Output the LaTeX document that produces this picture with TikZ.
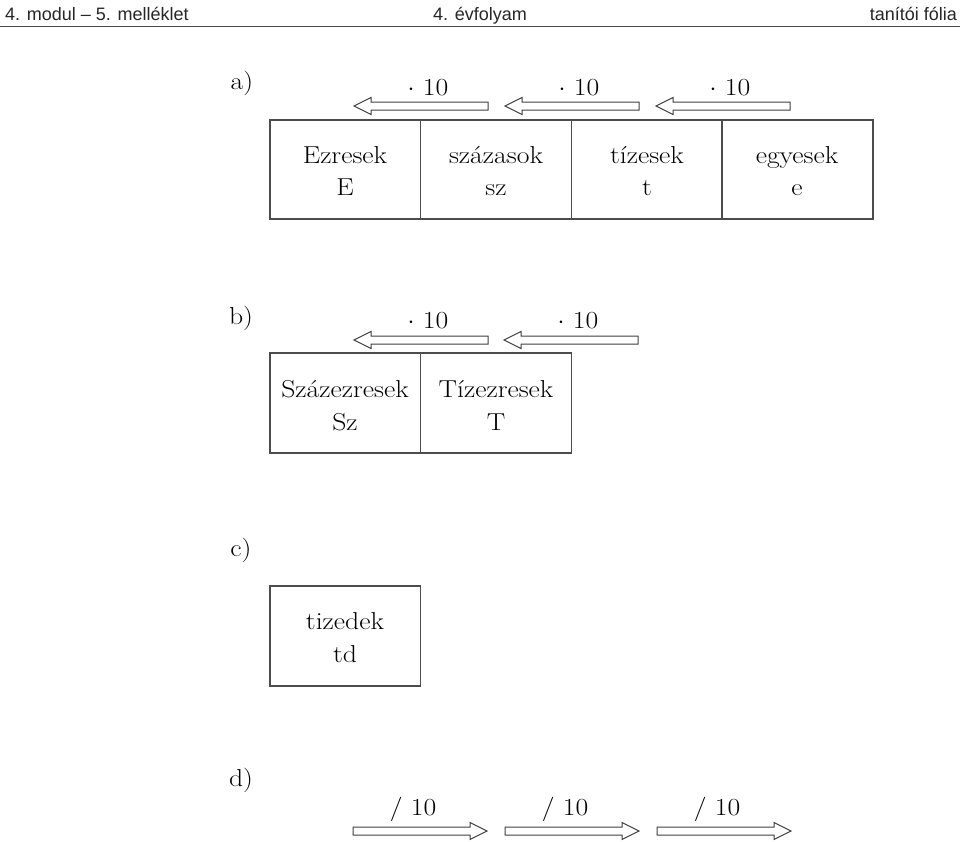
\documentclass[tikz,border=0pt]{standalone}
\usepackage{fontspec}
\setmainfont{Latin Modern Roman}[FakeStretch=1.13]
\newfontfamily\hdrfont{Liberation Sans}
\begin{document}
\begin{tikzpicture}[x=1pt,y=-1pt,
  cell/.style={draw=black!70,line width=1.3pt},
  arrowline/.style={draw=black!75,line width=1pt,fill=white},
  txt/.style={font=\fontsize{24.5}{28}\selectfont,anchor=base,inner sep=0pt},
  hdr/.style={font=\hdrfont\fontsize{18}{22}\selectfont,inner sep=0pt,text=black!85},
  larr/.pic={\draw[arrowline] (0,-4) -- (-117,-4) -- (-117,-8.5) -- (-134,0) -- (-117,8.5) -- (-117,4) -- (0,4) -- cycle;},
  rarr/.pic={\draw[arrowline] (0,-4) -- (117,-4) -- (117,-8.5) -- (134,0) -- (117,8.5) -- (117,4) -- (0,4) -- cycle;}
]
\useasboundingbox (0,0) rectangle (960,841);
% header
\node[hdr,anchor=base west] (h1) at (5,20) {4. modul – 5. melléklet};
\node[hdr,anchor=base] (h2) at (480,20) {4. évfolyam};
\node[hdr,anchor=base east] (h3) at (957,20) {tanítói fólia};
\draw[black!70,line width=1.5pt] (0,26.5) -- (960,26.5);

% a)
\node[txt] (la) at (242,89) {a)};
\pic at (488,106) {larr};
\pic at (639,106) {larr};
\pic at (790,106) {larr};
\node[txt] (ma1) at (428,95) {$\cdot$ 10};
\node[txt] (ma2) at (579,95) {$\cdot$ 10};
\node[txt] (ma3) at (730,95) {$\cdot$ 10};
\draw[cell] (270,120) rectangle (873,219);
\draw[cell] (420.5,120) -- (420.5,219) (571.5,120) -- (571.5,219) (722,120) -- (722,219);
\node[txt] (e1) at (345,163) {Ezresek};
\node[txt] (e2) at (345,195) {E};
\node[txt] (s1) at (496,163) {százasok};
\node[txt] (s2) at (496,195) {sz};
\node[txt] (t1) at (647,163) {tízesek};
\node[txt] (t2) at (647,195) {t};
\node[txt] (g1) at (797,163) {egyesek};
\node[txt] (g2) at (797,195) {e};

% b)
\node[txt] (lb) at (241,324) {b)};
\pic at (488,340) {larr};
\pic at (638,340) {larr};
\node[txt] (mb1) at (428,328) {$\cdot$ 10};
\node[txt] (mb2) at (578,328) {$\cdot$ 10};
\draw[cell] (270,353) rectangle (571.5,453);
\draw[cell] (420.5,353) -- (420.5,453);
\node[txt] (b1) at (345,397) {Százezresek};
\node[txt] (b2) at (345,430) {Sz};
\node[txt] (c1) at (496,397) {Tízezresek};
\node[txt] (c2) at (496,430) {T};

% c)
\node[txt] (lc) at (241,556) {c)};
\draw[cell] (270,586) rectangle (420.5,686);
\node[txt] (d1) at (345,629) {tizedek};
\node[txt] (d2) at (345,662) {td};

% d)
\node[txt] (ld) at (241,786) {d)};
\pic at (353,831) {rarr};
\pic at (505,831) {rarr};
\pic at (657,831) {rarr};
\node[txt] (n1) at (413,815) {/ 10};
\node[txt] (n2) at (565,815) {/ 10};
\node[txt] (n3) at (717,815) {/ 10};
\end{tikzpicture}
\end{document}
